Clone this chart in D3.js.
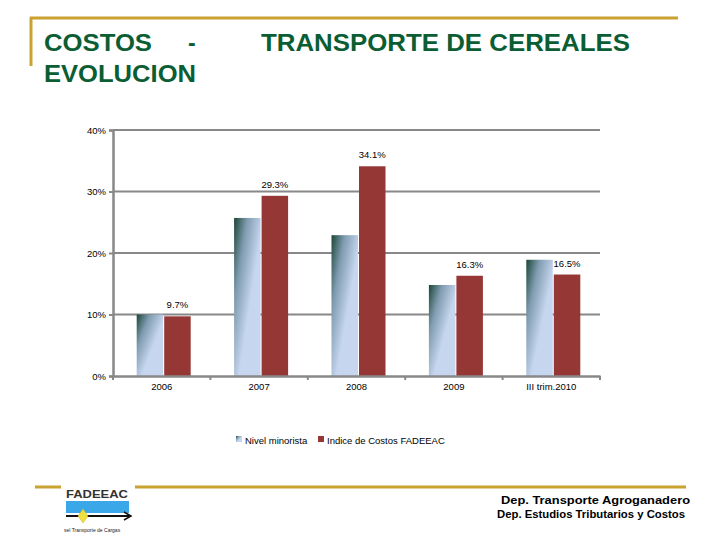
<!DOCTYPE html>
<html><head><meta charset="utf-8">
<script src="https://cdn.jsdelivr.net/npm/d3@7"></script>
<style>body{margin:0;background:#fff}svg{display:block}</style>
</head><body>
<svg id="c" width="720" height="540"></svg>
<script>
const categories = ["2006", "2007", "2008", "2009", "III trim.2010"];
const nivelMinorista = [10.0, 25.7, 22.9, 14.8, 18.9];
const indiceFadeeac = [9.7, 29.3, 34.1, 16.3, 16.5];
const yTicks = [0, 10, 20, 30, 40];
const seriesNames = ["Nivel minorista", "Indice de Costos FADEEAC"];

(function () {
const svg = d3.select("#c");
const defs = svg.append("defs");
const grad = defs.append("linearGradient").attr("id", "blueGrad")
  .attr("x1", "0").attr("y1", "0").attr("x2", "0.6").attr("y2", "0.55");
grad.append("stop").attr("offset", "0").attr("stop-color", "#1a4536");
grad.append("stop").attr("offset", "0.45").attr("stop-color", "#7f9bb0");
grad.append("stop").attr("offset", "1").attr("stop-color", "#c6d6ef");
const red = "#953735";
const gold = "#c9a231";
const green = "#0b5d33";

// decorative frame lines
svg.append("line").attr("x1", 30).attr("x2", 678).attr("y1", 18).attr("y2", 18)
  .attr("stroke", gold).attr("stroke-width", 3);
svg.append("line").attr("x1", 31).attr("x2", 31).attr("y1", 17).attr("y2", 66)
  .attr("stroke", gold).attr("stroke-width", 3);
svg.append("line").attr("x1", 35).attr("x2", 686).attr("y1", 487).attr("y2", 487)
  .attr("stroke", gold).attr("stroke-width", 3);

// title
const tfont = "'Liberation Sans', Arial, sans-serif";
svg.append("text").attr("x", 44).attr("y", 51).attr("font-family", tfont)
  .attr("font-weight", "bold").attr("font-size", 23).attr("fill", green)
  .attr("textLength", 108).attr("lengthAdjust", "spacingAndGlyphs").text("COSTOS");
svg.append("text").attr("x", 188).attr("y", 51).attr("font-family", tfont)
  .attr("font-weight", "bold").attr("font-size", 23).attr("fill", green).text("-");
svg.append("text").attr("x", 261).attr("y", 51).attr("font-family", tfont)
  .attr("font-weight", "bold").attr("font-size", 23).attr("fill", green)
  .attr("textLength", 369).attr("lengthAdjust", "spacingAndGlyphs").text("TRANSPORTE DE CEREALES");
svg.append("text").attr("x", 44).attr("y", 82).attr("font-family", tfont)
  .attr("font-weight", "bold").attr("font-size", 23).attr("fill", green)
  .attr("textLength", 152).attr("lengthAdjust", "spacingAndGlyphs").text("EVOLUCION");

// chart
const pLeft = 113, pRight = 600, pTop = 130, pBottom = 376;
const x = d3.scaleBand().domain(categories).range([pLeft, pRight]).paddingInner(0).paddingOuter(0);
const y = d3.scaleLinear().domain([0, 40]).range([pBottom, pTop]);
const cfont = "'Liberation Sans', Arial, sans-serif";

// gridlines
svg.append("g").selectAll("line").data(yTicks.filter(d => d > 0)).join("line")
  .attr("x1", pLeft).attr("x2", pRight).attr("y1", d => y(d)).attr("y2", d => y(d))
  .attr("stroke", "#888").attr("stroke-width", 2);

// y axis
const yAxis = svg.append("g").attr("transform", `translate(${pLeft},0)`)
  .call(d3.axisLeft(y).tickValues(yTicks).tickFormat(d => d + "%").tickSize(4).tickPadding(3));
yAxis.select(".domain").attr("stroke", "#888").attr("stroke-width", 2.5);
yAxis.selectAll(".tick line").attr("stroke", "#888").attr("stroke-width", 2);
yAxis.selectAll("text").attr("font-family", cfont).attr("font-size", 9.5).attr("fill", "#000");

// bars
const bw = 26.5, gap = 1;
const groups = svg.append("g").selectAll("g").data(categories).join("g");
groups.append("rect")
  .attr("x", (d) => x(d) + x.bandwidth() / 2 + 2.5 - bw - gap)
  .attr("y", (d, i) => y(nivelMinorista[i]))
  .attr("width", bw)
  .attr("height", (d, i) => pBottom - y(nivelMinorista[i]))
  .attr("fill", "url(#blueGrad)");
groups.append("rect")
  .attr("x", (d) => x(d) + x.bandwidth() / 2 + 2.5)
  .attr("y", (d, i) => y(indiceFadeeac[i]))
  .attr("width", bw)
  .attr("height", (d, i) => pBottom - y(indiceFadeeac[i]))
  .attr("fill", red);
groups.append("text")
  .attr("x", (d) => x(d) + x.bandwidth() / 2 + 2.5 + bw / 2)
  .attr("y", (d, i) => y(indiceFadeeac[i]) - 8)
  .attr("text-anchor", "middle").attr("font-family", cfont).attr("font-size", 9.5)
  .attr("fill", "#000").text((d, i) => indiceFadeeac[i].toFixed(1) + "%");

// x axis
const xAxis = svg.append("g").attr("transform", `translate(0,${pBottom})`)
  .call(d3.axisBottom(x).tickSize(0).tickPadding(7));
xAxis.select(".domain").attr("stroke", "#888").attr("stroke-width", 2.5);
xAxis.selectAll("text").attr("font-family", cfont).attr("font-size", 9.5).attr("fill", "#000");
svg.append("g").selectAll("line").data(categories.concat(["end"])).join("line")
  .attr("x1", (d, i) => pLeft + i * x.bandwidth()).attr("x2", (d, i) => pLeft + i * x.bandwidth())
  .attr("y1", pBottom).attr("y2", pBottom + 4).attr("stroke", "#888").attr("stroke-width", 2);

// legend
const leg = svg.append("g").attr("transform", "translate(236,440)");
leg.append("rect").attr("x", 0).attr("y", -4).attr("width", 6).attr("height", 6).attr("fill", "url(#blueGrad)");
leg.append("text").attr("x", 9).attr("y", 3.5).attr("font-family", cfont).attr("font-size", 9.5).text(seriesNames[0]);
leg.append("rect").attr("x", 82).attr("y", -4).attr("width", 6).attr("height", 6).attr("fill", red);
leg.append("text").attr("x", 91).attr("y", 3.5).attr("font-family", cfont).attr("font-size", 9.5).text(seriesNames[1]);

// footer text
svg.append("text").attr("x", 501).attr("y", 504).attr("font-family", tfont).attr("font-weight", "bold")
  .attr("font-size", 11).attr("textLength", 189).attr("lengthAdjust", "spacingAndGlyphs").text("Dep. Transporte Agroganadero");
svg.append("text").attr("x", 497).attr("y", 518).attr("font-family", tfont).attr("font-weight", "bold")
  .attr("font-size", 11).attr("textLength", 188).attr("lengthAdjust", "spacingAndGlyphs").text("Dep.  Estudios Tributarios y Costos");

// logo
const logo = svg.append("g");
logo.append("rect").attr("x", 61).attr("y", 485).attr("width", 74).attr("height", 52).attr("fill", "#fff");
logo.append("text").attr("x", 66).attr("y", 498).attr("font-family", tfont).attr("font-weight", "bold")
  .attr("font-size", 10).attr("fill", "#333").attr("textLength", 62).attr("lengthAdjust", "spacingAndGlyphs").text("FADEEAC");
logo.append("rect").attr("x", 66).attr("y", 501).attr("width", 63).attr("height", 12).attr("fill", "#3aa7e8");
logo.append("line").attr("x1", 66).attr("x2", 130).attr("y1", 516).attr("y2", 516).attr("stroke", "#111").attr("stroke-width", 2);
logo.append("path").attr("d", "M124,512 L131,516 L124,520").attr("fill", "none").attr("stroke", "#111").attr("stroke-width", 1.5);
logo.append("path").attr("d", "M83,509 L88,516 L83,523 L78,516 Z").attr("fill", "#f0e040").attr("stroke", "#c8b020").attr("stroke-width", 0.5);
logo.append("text").attr("x", 64).attr("y", 532).attr("font-family", tfont).attr("font-size", 5)
  .attr("fill", "#222").text("sel Transporte de Cargas");
})();
</script>
</body></html>
